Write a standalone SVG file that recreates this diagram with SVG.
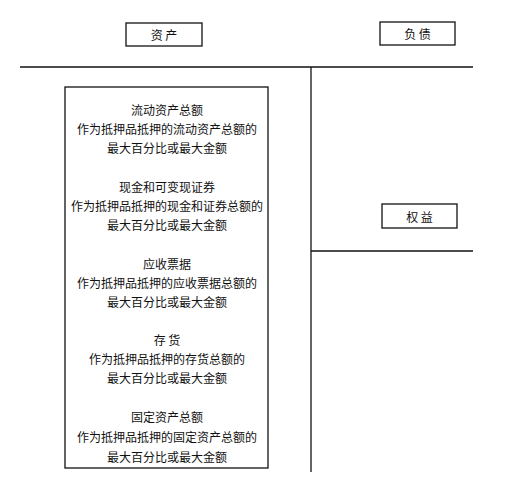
<svg xmlns="http://www.w3.org/2000/svg" width="517" height="484" viewBox="0 0 517 484">
<style>
.bx{fill:#fff;stroke:#111;stroke-width:1.3}
.ln{stroke:#111;stroke-width:1.3;fill:none}
text{font-family:"Noto Sans CJK SC","Liberation Sans",sans-serif;font-size:12px;fill:#111;text-anchor:middle;dominant-baseline:central}
</style>
<rect width="517" height="484" fill="#fff"/>
<g id="connectors">
<line class="ln" x1="20" y1="67" x2="473" y2="67"/>
<line class="ln" x1="311" y1="67" x2="311" y2="472"/>
<line class="ln" x1="311" y1="251" x2="473" y2="251"/>
</g>
<g id="assets"><rect class="bx" x="126" y="23" width="76" height="23"/><text x="164" y="34.5">资 产</text></g>
<g id="liabilities"><rect class="bx" x="380" y="22" width="75" height="23"/><text x="417.5" y="33.5">负 债</text></g>
<g id="equity"><rect class="bx" x="382" y="204" width="75" height="24"/><text x="419.5" y="216">权 益</text></g>
<g id="collateral">
<rect class="bx" x="65" y="87" width="203" height="381"/>
<text x="167" y="109">流动资产总额</text>
<text x="167" y="128">作为抵押品抵押的流动资产总额的</text>
<text x="167" y="147">最大百分比或最大金额</text>
<text x="167" y="186">现金和可变现证券</text>
<text x="167" y="205">作为抵押品抵押的现金和证券总额的</text>
<text x="167" y="224">最大百分比或最大金额</text>
<text x="167" y="263">应收票据</text>
<text x="167" y="282">作为抵押品抵押的应收票据总额的</text>
<text x="167" y="301">最大百分比或最大金额</text>
<text x="167" y="339">存 货</text>
<text x="167" y="358">作为抵押品抵押的存货总额的</text>
<text x="167" y="377">最大百分比或最大金额</text>
<text x="167" y="416">固定资产总额</text>
<text x="167" y="436">作为抵押品抵押的固定资产总额的</text>
<text x="167" y="456">最大百分比或最大金额</text>
</g>
</svg>
